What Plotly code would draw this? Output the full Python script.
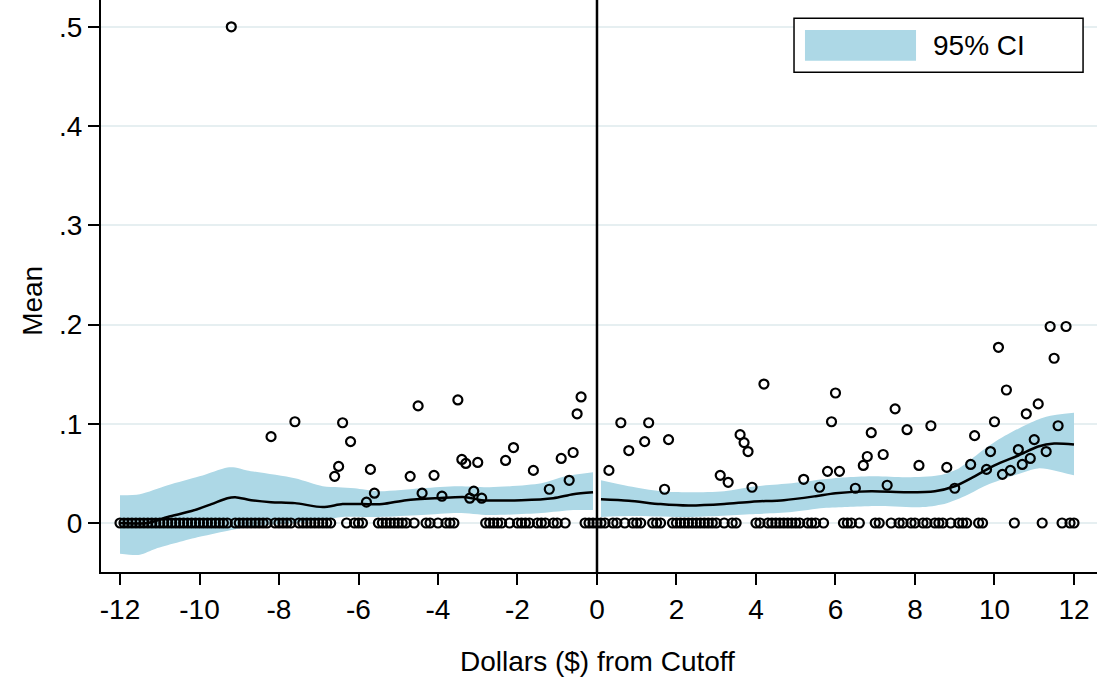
import numpy as np
import plotly.graph_objects as go

# Binned means of the outcome (bin width $0.10); bins not listed have mean 0
nonzero_left_x = [-9.2, -8.2, -7.6, -6.6, -6.5, -6.4, -6.2, -5.8, -5.7, -5.6,
                  -4.7, -4.5, -4.4, -4.1, -3.9, -3.5, -3.4, -3.3, -3.2, -3.1,
                  -3.0, -2.9, -2.3, -2.1, -1.6, -1.2, -0.9, -0.7, -0.6, -0.5, -0.4]
nonzero_left_y = [0.500, 0.087, 0.102, 0.047, 0.057, 0.101, 0.082, 0.021, 0.054, 0.030,
                  0.047, 0.118, 0.030, 0.048, 0.027, 0.124, 0.064, 0.060, 0.025, 0.032,
                  0.061, 0.025, 0.063, 0.076, 0.053, 0.034, 0.065, 0.043, 0.071, 0.110, 0.127]
nonzero_right_x = [0.3, 0.6, 0.8, 1.2, 1.3, 1.7, 1.8, 3.1, 3.3, 3.6, 3.7, 3.8, 3.9, 4.2,
                   5.2, 5.6, 5.8, 5.9, 6.0, 6.1, 6.5, 6.7, 6.8, 6.9, 7.2, 7.3, 7.5, 7.8,
                   8.1, 8.4, 8.8, 9.0, 9.4, 9.5, 9.8, 9.9, 10.0, 10.1, 10.2, 10.3, 10.4,
                   10.6, 10.7, 10.8, 10.9, 11.0, 11.1, 11.3, 11.4, 11.5, 11.6, 11.8]
nonzero_right_y = [0.053, 0.101, 0.073, 0.082, 0.101, 0.034, 0.084, 0.048, 0.041, 0.089,
                   0.081, 0.072, 0.036, 0.140, 0.044, 0.036, 0.052, 0.102, 0.131, 0.052,
                   0.035, 0.058, 0.067, 0.091, 0.069, 0.038, 0.115, 0.094, 0.058, 0.098,
                   0.056, 0.035, 0.059, 0.088, 0.054, 0.072, 0.102, 0.177, 0.049, 0.134,
                   0.053, 0.074, 0.059, 0.110, 0.065, 0.084, 0.120, 0.072, 0.198, 0.166,
                   0.098, 0.198]

# Local fit and 95% confidence band, left of the cutoff
fit_left_x = [-12.0, -11.3, -10.8, -10.2, -9.7, -9.3, -9.1, -8.7, -8.2, -7.6, -6.9,
              -6.4, -5.9, -5.4, -4.8, -4.0, -3.3, -2.9, -1.9, -1.1, -0.6, -0.1]
fit_left_y = [0.000, 0.000, 0.006, 0.012, 0.019, 0.025, 0.026, 0.023, 0.021, 0.020, 0.016,
              0.019, 0.019, 0.019, 0.023, 0.025, 0.026, 0.023, 0.023, 0.025, 0.029, 0.031]
ci_left_hi_x = [-12.0, -11.5, -10.8, -10.0, -9.3, -9.1, -8.8, -7.6, -6.9, -6.5, -6.1,
                -5.5, -4.4, -3.5, -2.7, -1.4, -0.8, -0.1]
ci_left_hi_y = [0.028, 0.029, 0.038, 0.047, 0.056, 0.056, 0.053, 0.045, 0.037, 0.036, 0.035,
                0.032, 0.035, 0.037, 0.036, 0.040, 0.047, 0.051]
ci_left_lo_x = [-12.0, -11.5, -11.1, -10.0, -9.2, -8.6, -7.6, -6.9, -6.4, -5.5, -4.4,
                -3.5, -2.7, -1.4, -0.6, -0.1]
ci_left_lo_y = [-0.031, -0.032, -0.026, -0.014, -0.007, -0.003, 0.000, 0.003, 0.006, 0.006,
                0.008, 0.010, 0.008, 0.010, 0.013, 0.013]

# Local fit and 95% confidence band, right of the cutoff
fit_right_x = [0.1, 0.8, 1.6, 2.3, 3.2, 3.9, 4.7, 5.5, 6.0, 6.9, 7.8, 8.5, 9.0, 9.5,
               10.0, 10.6, 11.1, 11.5, 12.0]
fit_right_y = [0.024, 0.0225, 0.019, 0.0175, 0.019, 0.0215, 0.023, 0.027, 0.030, 0.032,
               0.031, 0.032, 0.037, 0.047, 0.058, 0.068, 0.077, 0.080, 0.079]
ci_right_hi_x = [0.1, 0.8, 1.6, 2.3, 3.2, 4.0, 4.9, 5.7, 6.3, 7.0, 7.8, 8.6, 9.1, 9.6,
                 10.1, 10.8, 11.3, 12.0]
ci_right_hi_y = [0.043, 0.037, 0.032, 0.031, 0.032, 0.037, 0.040, 0.044, 0.046, 0.047,
                 0.046, 0.048, 0.055, 0.070, 0.084, 0.099, 0.107, 0.111]
ci_right_lo_x = [0.1, 0.8, 2.3, 4.0, 4.9, 5.7, 6.3, 7.0, 8.2, 8.8, 9.3, 9.8, 10.5, 11.1,
                 11.5, 12.0]
ci_right_lo_y = [0.006, 0.007, 0.006, 0.009, 0.011, 0.015, 0.016, 0.017, 0.016, 0.020,
                 0.028, 0.038, 0.048, 0.055, 0.053, 0.048]

y_tick_vals = [0, 0.1, 0.2, 0.3, 0.4, 0.5]
y_tick_text = ["0", ".1", ".2", ".3", ".4", ".5"]
x_tick_vals = [-12, -10, -8, -6, -4, -2, 0, 2, 4, 6, 8, 10, 12]
x_tick_text = ["-12", "-10", "-8", "-6", "-4", "-2", "0", "2", "4", "6", "8", "10", "12"]

# Assemble every bin from -12 to 12 with its mean
nonzero = {round(x, 1): y for x, y in zip(nonzero_left_x + nonzero_right_x,
                                          nonzero_left_y + nonzero_right_y)}
bin_x = [round(k / 10, 1) for k in range(-120, 121)]
bin_mean = [nonzero.get(x, 0.0) for x in bin_x]

BAND = "#add8e6"
FONT = "Liberation Sans, Arial, Helvetica, sans-serif"
TXT = 28

fig = go.Figure()

for lo_x, lo_y, hi_x, hi_y in [(ci_left_lo_x, ci_left_lo_y, ci_left_hi_x, ci_left_hi_y),
                               (ci_right_lo_x, ci_right_lo_y, ci_right_hi_x, ci_right_hi_y)]:
    fig.add_trace(go.Scatter(x=lo_x, y=lo_y, mode="lines",
                             line=dict(width=0, shape="spline", smoothing=0.8),
                             showlegend=False, hoverinfo="skip"))
    fig.add_trace(go.Scatter(x=hi_x, y=hi_y, mode="lines", fill="tonexty",
                             fillcolor=BAND,
                             line=dict(width=0, shape="spline", smoothing=0.8),
                             showlegend=False, hoverinfo="skip"))

fig.add_trace(go.Scatter(x=bin_x, y=bin_mean, mode="markers",
                         marker=dict(symbol="circle-open", size=9, color="black",
                                     line=dict(width=2.2, color="black")),
                         showlegend=False))

for fx, fy in [(fit_left_x, fit_left_y), (fit_right_x, fit_right_y)]:
    fig.add_trace(go.Scatter(x=fx, y=fy, mode="lines",
                             line=dict(color="black", width=2.5, shape="spline", smoothing=0.8),
                             showlegend=False))

# Cutoff line
fig.add_shape(type="line", xref="x", yref="paper", x0=0, x1=0, y0=0, y1=1,
              line=dict(color="black", width=2.5))

# Legend box for the confidence band
fig.add_shape(type="rect", xref="paper", yref="paper", x0=0.6958, x1=0.986,
              y0=0.8736, y1=0.968, line=dict(color="black", width=1.5),
              fillcolor="white", layer="above")
fig.add_shape(type="rect", xref="paper", yref="paper", x0=0.7068, x1=0.8183,
              y0=0.894, y1=0.9476, line=dict(width=0), fillcolor=BAND, layer="above")
fig.add_annotation(text="95% CI", xref="paper", yref="paper", x=0.8333, y=0.9213,
                   xanchor="left", yanchor="middle", showarrow=False,
                   font=dict(family=FONT, size=TXT, color="black"))

fig.add_annotation(text="Mean", xref="paper", yref="paper", x=-0.0683, y=0.474,
                   xanchor="center", yanchor="middle", textangle=-90, showarrow=False,
                   font=dict(family=FONT, size=TXT, color="black"))
fig.add_annotation(text="Dollars ($) from Cutoff", xref="paper", yref="paper",
                   x=0.4985, y=-0.157, xanchor="center", yanchor="middle",
                   showarrow=False, font=dict(family=FONT, size=TXT, color="black"))

fig.update_layout(
    width=1097, height=679,
    margin=dict(l=101, r=0, t=0, b=107),
    paper_bgcolor="white", plot_bgcolor="white",
    font=dict(family=FONT, size=TXT, color="black"),
    showlegend=False,
    xaxis=dict(range=[-12.478, 12.579], tickvals=x_tick_vals, ticktext=x_tick_text,
               ticks="outside", ticklen=11, tickwidth=2, tickcolor="black", showline=True,
               linecolor="black", linewidth=2, showgrid=False, zeroline=False,
               tickfont=dict(size=TXT)),
    yaxis=dict(range=[-0.0494, 0.527], tickvals=y_tick_vals, ticktext=y_tick_text,
               ticks="outside", ticklen=11, tickwidth=2, tickcolor="black",
               showline=True, linecolor="black", linewidth=2, showgrid=True,
               gridcolor="#e6eff1", gridwidth=2, zeroline=False,
               tickfont=dict(size=TXT)),
)

fig.write_html("out.html")
